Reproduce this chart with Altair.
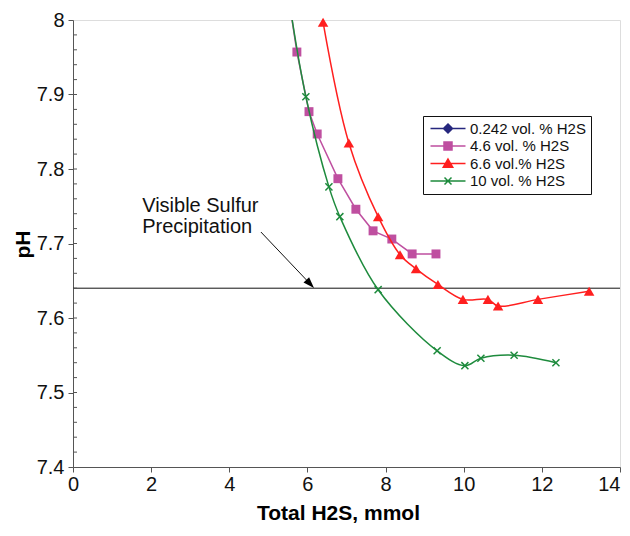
import altair as alt
import pandas as pd

# ---------------- data ----------------
series_names = ["0.242 vol. % H2S", "4.6 vol. % H2S", "6.6 vol.% H2S", "10 vol. % H2S"]
series_colors = ["#26277E", "#BF4FA0", "#FF1F1F", "#1E8B3D"]

# 0.242 vol.% series: no points visible inside the plotted range
s0242_x = []
s0242_y = []

s46_x = [5.55, 5.73, 6.04, 6.25, 6.78, 7.24, 7.68, 8.16, 8.68, 9.29]
s46_y = [8.02, 7.957, 7.877, 7.847, 7.787, 7.746, 7.717, 7.706, 7.686, 7.686]

s66_x = [6.40, 7.06, 7.81, 8.37, 8.78, 9.34, 9.98, 10.62, 10.88, 11.90, 13.21]
s66_y = [7.997, 7.835, 7.736, 7.685, 7.666, 7.645, 7.625, 7.625, 7.616, 7.625, 7.636]

s10_x = [5.55, 5.96, 6.55, 6.83, 7.81, 9.32, 10.03, 10.44, 11.29, 12.36]
s10_y = [8.02, 7.897, 7.776, 7.736, 7.638, 7.556, 7.536, 7.546, 7.550, 7.540]

precip_ph = [7.64]

annot_text = ["Visible Sulfur\nPrecipitation"]
annot_x = [1.77]
annot_y = [7.742]

arrow_x = [4.81]
arrow_y = [7.7154]
arrow_x2 = [6.07]
arrow_y2 = [7.6458]

x_ticks = [0, 2, 4, 6, 8, 10, 12, 14]
y_ticks = [7.4, 7.5, 7.6, 7.7, 7.8, 7.9, 8.0]
y_minor = [7.42, 7.44, 7.46, 7.48, 7.5, 7.52, 7.54, 7.56, 7.58, 7.6,
           7.62, 7.64, 7.66, 7.68, 7.7, 7.72, 7.74, 7.76, 7.78, 7.8,
           7.82, 7.84, 7.86, 7.88, 7.9, 7.92, 7.94, 7.96, 7.98]

# ---------------- style ----------------
FONT = "Liberation Sans, Arial, sans-serif"
TICKFONT = "Liberation Sans Narrow, Arial Narrow, Liberation Sans, sans-serif"
X_PLOT_W = 547
Y_PLOT_H = 447

X = alt.X("x:Q", scale=alt.Scale(domain=[0, 14], nice=False, zero=False),
          axis=alt.Axis(title="Total H2S, mmol", values=x_ticks, grid=False,
                        tickSize=5, labelPadding=2, labelFontSize=20, labelFont=TICKFONT,
                        labelFlush=False,
                        labelAlign={"condition": {"test": "datum.value == 14", "value": "right"},
                                    "value": "center"},
                        labelColor="#111", titleFont=FONT, titleFontSize=21,
                        titleFontWeight="bold", titleColor="#000",
                        titleX=265, titleY=52, titleBaseline="alphabetic",
                        domainColor="#555", tickColor="#555"))
Y = alt.Y("y:Q", scale=alt.Scale(domain=[7.4, 8.0], nice=False, zero=False),
          axis=alt.Axis(title="pH", values=y_ticks, format=".1~f", grid=False,
                        tickSize=5, labelPadding=4, labelFontSize=20, labelFont=TICKFONT,
                        labelColor="#111", titleFont=FONT, titleFontSize=21,
                        titleFontWeight="bold", titleColor="#000",
                        titleX=-40, titleY=224,
                        domainColor="#555", tickColor="#555"))


def sdf(xs, ys, name):
    return pd.DataFrame({"x": xs, "y": ys, "series": name})


layers = []

# horizontal precipitation line
layers.append(alt.Chart(pd.DataFrame({"y": precip_ph}))
              .mark_rule(color="#111", strokeWidth=1).encode(y=Y))

# inner minor ticks on y axis
layers.append(alt.Chart(pd.DataFrame({"y": y_minor}))
              .mark_rule(color="#555", strokeWidth=1)
              .encode(y=Y, x=alt.value(0), x2=alt.value(4)))

# series
xpath = "M-1,-1L1,1M-1,1L1,-1"
specs = [
    (s46_x, s46_y, 1, "linear", "square", 80, True),
    (s66_x, s66_y, 2, "catmull-rom", "triangle-up", 110, True),
    (s10_x, s10_y, 3, "catmull-rom", xpath, 50, False),
]
for xs, ys, i, interp, shape, size, filled in specs:
    d = sdf(xs, ys, series_names[i])
    col = series_colors[i]
    layers.append(alt.Chart(d).mark_line(color=col, strokeWidth=1.5, clip=True,
                                         interpolate=interp).encode(x=X, y=Y))
    pt = alt.Chart(d).transform_filter("datum.y <= 8.0")
    if filled:
        layers.append(pt.mark_point(shape=shape, size=size, filled=True, color=col,
                                    opacity=1).encode(x=X, y=Y))
    else:
        layers.append(pt.mark_point(shape=shape, size=size, filled=False, color=col,
                                    strokeWidth=1.5, opacity=1).encode(x=X, y=Y))

# annotation text
layers.append(alt.Chart(pd.DataFrame({"x": annot_x, "y": annot_y, "t": annot_text}))
              .mark_text(align="left", baseline="alphabetic", fontSize=20, lineHeight=21,
                         font=FONT, color="#111", lineBreak="\n")
              .encode(x=X, y=Y, text="t:N"))

# arrow
arr = pd.DataFrame({"x": arrow_x, "y": arrow_y, "x2": arrow_x2, "y2": arrow_y2})
layers.append(alt.Chart(arr).mark_rule(color="#111", strokeWidth=1)
              .encode(x=X, y=Y, x2="x2:Q", y2="y2:Q"))
layers.append(alt.Chart(pd.DataFrame({"x": arrow_x2, "y": arrow_y2}))
              .mark_point(shape="M0,-0.8L0.55,0.8L-0.55,0.8Z", size=196, filled=True,
                          color="#000", angle=136.6, opacity=1)
              .encode(x=X, y=Y))

# legend (symbols: line through marker); unit = 5px with symbolSize 100
leg_shapes = ["M-1,0H6M2.5,-0.9L3.4,0L2.5,0.9L1.6,0Z",
              "M-1,0H6M1.7,-0.8H3.3V0.8H1.7Z",
              "M-1,0H6M2.5,-0.9L3.45,0.75L1.55,0.75Z",
              "M-1,0H6M1.8,-0.7L3.2,0.7M1.8,0.7L3.2,-0.7"]
leg_df = pd.DataFrame({"series": series_names})
legend = alt.Legend(title=None, orient="none", legendX=350, legendY=96,
                    strokeColor="#111", fillColor="white", padding=5,
                    labelFont=FONT, labelFontSize=15, labelColor="#111",
                    labelOffset=27, symbolSize=100, symbolStrokeWidth=1.5,
                    rowPadding=1.5, symbolOpacity=1)
sc = alt.Scale(domain=series_names, range=series_colors)
layers.append(alt.Chart(leg_df).mark_point(filled=True, clip=True, opacity=1)
              .encode(x=alt.value(-600), y=alt.value(-600),
                      fill=alt.Fill("series:N", scale=sc, legend=legend, sort=series_names),
                      stroke=alt.Stroke("series:N", scale=sc, legend=legend, sort=series_names),
                      shape=alt.Shape("series:N", scale=alt.Scale(domain=series_names, range=leg_shapes),
                                      legend=legend, sort=series_names)))

chart = (alt.layer(*layers)
         .properties(width=X_PLOT_W, height=Y_PLOT_H,
                     padding={"left": 65, "top": 12, "right": 2, "bottom": 56},
                     autosize=alt.AutoSizeParams(type="none"))
         .configure_view(stroke="#666", strokeWidth=1)
         .configure(background="white"))

chart.save("out.html", embed_options={"renderer": "svg", "actions": False})
